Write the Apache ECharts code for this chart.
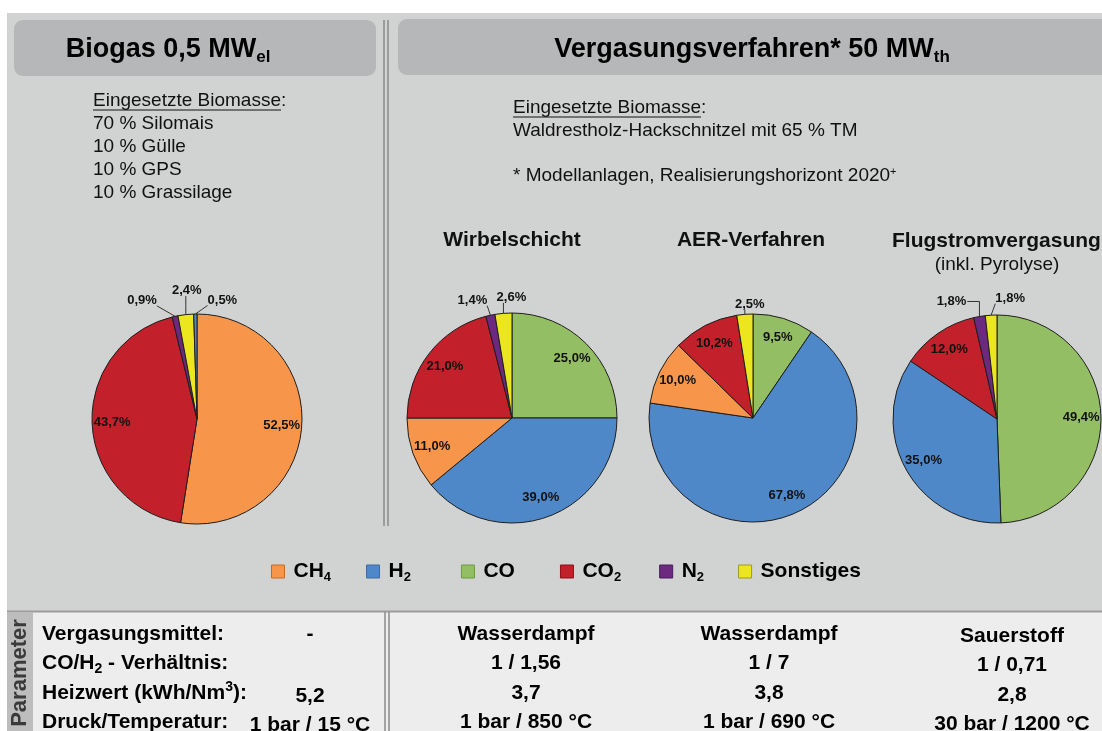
<!DOCTYPE html>
<html><head><meta charset="utf-8">
<script src="https://cdn.jsdelivr.net/npm/echarts@6/dist/echarts.min.js"></script>
<style>html,body{margin:0;padding:0;background:#fff}#c{width:1102px;height:731px}</style>
</head><body><div id="c"></div>
<script>
// ---------- data ----------
const categories = ['CH4', 'H2', 'CO', 'CO2', 'N2', 'Sonstiges'];
const catColors = ['#f7964a', '#4f88c8', '#94be63', '#c2202a', '#6b2a80', '#ece61f'];
const catBorders = ['#c66a20', '#3d6a9e', '#6c9a42', '#8e1018', '#4a1a5c', '#a09a20'];
// values in category order (CH4, H2, CO, CO2, N2, Sonstiges)
const biogasValues = [52.5, 0.5, 0, 43.7, 0.9, 2.4];
const wirbelValues = [11.0, 39.0, 25.0, 21.0, 1.4, 2.6];
const aerValues = [10.0, 67.8, 9.5, 10.2, 0, 2.5];
const flugValues = [0, 35.0, 49.4, 12.0, 1.8, 1.8];
// clockwise drawing order from 12 o'clock
const biogasOrder = ['CH4', 'CO2', 'N2', 'Sonstiges', 'H2'];
const gasOrder = ['CO', 'H2', 'CH4', 'CO2', 'N2', 'Sonstiges'];

const pieTitles = ['Wirbelschicht', 'AER-Verfahren', 'Flugstromvergasung'];
const biomasseLeft = ['70 % Silomais', '10 % Gülle', '10 % GPS', '10 % Grassilage'];
const biomasseRight = 'Waldrestholz-Hackschnitzel mit 65 % TM';

const paramLabels = ['Vergasungsmittel:', 'CO/H{sub|2} - Verhältnis:', 'Heizwert (kWh/Nm{sup|3}):', 'Druck/Temperatur:'];
const paramBiogas = ['-', '', '5,2', '1 bar / 15 °C'];
const paramWirbel = ['Wasserdampf', '1 / 1,56', '3,7', '1 bar / 850 °C'];
const paramAer = ['Wasserdampf', '1 / 7', '3,8', '1 bar / 690 °C'];
const paramFlug = ['Sauerstoff', '1 / 0,71', '2,8', '30 bar / 1200 °C'];

// ---------- helpers ----------
const FONT = '"Liberation Sans", Arial, Helvetica, sans-serif';
const fmt = v => v.toFixed(1).replace('.', ',') + '%';
const colorOf = n => catColors[categories.indexOf(n)];
function measure(text, font) {
  const c = document.createElement('canvas').getContext('2d');
  c.font = font; return c.measureText(text).width;
}
// label placement style for the small outside labels: offset of label centre from slice edge
function smallLabelLayout(shifts) {
  return function (p) {
    const pts = p.labelLinePoints;
    const s = shifts[p.dataIndex];
    if (!pts || !s) return {};
    const e = pts[0];
    const w = p.labelRect.width, h = p.labelRect.height;
    const cx = e[0] + s[0], cy = e[1] + s[1];
    let end, mid;
    if (s[2] === 'elbow') {
      end = [cx + w / 2 + 1, cy];
      mid = [e[0], cy];
    } else {
      const ex = Math.max(cx - w / 2, Math.min(e[0], cx + w / 2));
      const ey = Math.max(cy - h / 2 + 2, Math.min(e[1], cy + h / 2 - 1));
      end = [ex, ey]; mid = [(ex + e[0]) / 2, (ey + e[1]) / 2];
    }
    return { x: cx, y: cy, align: 'center', verticalAlign: 'middle', labelLinePoints: [e, mid, end] };
  };
}
const visibleSeries = [], labelSeries = [];
function addPie(vals, order, center, r, shiftsByName) {
  const data = order.map(n => ({ name: n, value: vals[categories.indexOf(n)] })).filter(d => d.value > 0);
  const shifts = data.map(d => shiftsByName[d.name]);
  visibleSeries.push({
    type: 'pie', center, radius: r, startAngle: 90, clockwise: true,
    avoidLabelOverlap: false, silent: true,
    itemStyle: { borderColor: '#1e1e1e', borderWidth: 1 },
    label: { show: true, position: 'outside', formatter: p => fmt(p.value),
      fontFamily: FONT, fontSize: 13, fontWeight: 'bold', color: '#111' },
    labelLine: { show: true, length: 8, length2: 6, lineStyle: { color: '#333', width: 1 } },
    labelLayout: smallLabelLayout(shifts),
    emphasis: { disabled: true },
    data: data.map(d => d.value < 5
      ? { ...d, itemStyle: { color: colorOf(d.name) } }
      : { ...d, itemStyle: { color: colorOf(d.name) }, label: { show: false }, labelLine: { show: false } })
  });
  labelSeries.push({
    type: 'pie', center, radius: [r * 0.56, r], startAngle: 90, clockwise: true, silent: true,
    itemStyle: { color: 'rgba(0,0,0,0)', borderWidth: 0 },
    label: { show: true, position: 'inside', formatter: p => fmt(p.value),
      fontFamily: FONT, fontSize: 13, fontWeight: 'bold', color: '#111' },
    labelLine: { show: false }, emphasis: { disabled: true },
    data: data.map(d => d.value >= 5 ? d : { ...d, label: { show: false } })
  });
}
addPie(biogasValues, biogasOrder, [197, 419], 105, { N2: [-33, -16], Sonstiges: [1, -24], H2: [27, -14] });
addPie(wirbelValues, gasOrder, [512, 418], 105, { N2: [-18, -15], Sonstiges: [8, -16] });
addPie(aerValues, gasOrder, [753, 418], 104, { Sonstiges: [5, -10] });
addPie(flugValues, gasOrder, [997, 419], 104, { N2: [-28, -15, 'elbow'], Sonstiges: [19, -17] });

// legend label: subscript digits and per-item spacing
const legendSpace = { CH4: 1, H2: 16, CO: 11, CO2: 4, N2: 0, Sonstiges: 0 };
const subFormat = n => {
  const m = n.match(/^([A-Za-z]+?)(\d)$/);
  const body = m ? '{m|' + m[1] + '}{s|' + m[2] + '}' : '{m|' + n + '}';
  return body + (legendSpace[n] ? '{g' + legendSpace[n] + '|}' : '');
};
const legendRich = {
  m: { fontFamily: FONT, fontSize: 21, fontWeight: 'bold', color: '#000', lineHeight: 24, padding: [0, 0, 0, 4] },
  s: { fontFamily: FONT, fontSize: 13, fontWeight: 'bold', color: '#000', lineHeight: 11, verticalAlign: 'bottom' }
};
Object.values(legendSpace).forEach(v => { if (v) legendRich['g' + v] = { width: v, lineHeight: 24 }; });

// ---------- graphic ----------
const g = [];
g.push({ type: 'rect', z: 0, shape: { x: 7, y: 13, width: 1095, height: 598 }, style: { fill: '#d1d3d2' } });
g.push({ type: 'rect', z: 0, shape: { x: 7, y: 611, width: 1095, height: 120 }, style: { fill: '#ededed' } });
g.push({ type: 'line', z: 1, shape: { x1: 7, y1: 611.5, x2: 1102, y2: 611.5 }, style: { stroke: '#9c9c9c', lineWidth: 2 } });
g.push({ type: 'rect', z: 1, shape: { x: 7, y: 612, width: 26, height: 119 }, style: { fill: '#bdbdbd' } });
g.push({ type: 'text', z: 10, x: 20, y: 673, rotation: Math.PI / 2,
  style: { text: 'Parameter', fontFamily: FONT, fontSize: 22, fontWeight: 'bold', fill: '#3a3a3a', align: 'center', verticalAlign: 'middle' } });
// header boxes
g.push({ type: 'rect', z: 1, shape: { x: 14, y: 20, width: 362, height: 56, r: 9 }, style: { fill: '#b6b7b8' } });
g.push({ type: 'rect', z: 1, shape: { x: 398, y: 19, width: 720, height: 56, r: 9 }, style: { fill: '#b6b7b8' } });
const headRich = {
  m: { fontFamily: FONT, fontSize: 27, fontWeight: 'bold', fill: '#000', lineHeight: 32 },
  s: { fontFamily: FONT, fontSize: 17, fontWeight: 'bold', fill: '#000', lineHeight: 14, verticalAlign: 'bottom' }
};
g.push({ type: 'text', z: 10, x: 168, y: 50, style: { text: '{m|Biogas 0,5 MW}{s|el}', rich: headRich, align: 'center', verticalAlign: 'middle' } });
g.push({ type: 'text', z: 10, x: 752, y: 50, style: { text: '{m|Vergasungsverfahren* 50 MW}{s|th}', rich: headRich, align: 'center', verticalAlign: 'middle' } });
// separators
[[384, 20, 526], [388, 20, 526], [385, 612, 731], [389, 612, 731]].forEach(([x, y1, y2]) =>
  g.push({ type: 'line', z: 2, shape: { x1: x, y1, x2: x, y2 }, style: { stroke: '#8a8a8a', lineWidth: 1.5 } }));
// biomass texts
const BODY = 19;
const bodyStyle = (t, x, y) => ({ type: 'text', z: 10, x, y,
  style: { text: t, fontFamily: FONT, fontSize: BODY, fill: '#111', align: 'left', verticalAlign: 'middle' } });
g.push(bodyStyle('Eingesetzte Biomasse:', 93, 101));
biomasseLeft.forEach((t, i) => g.push(bodyStyle(t, 93, 124 + i * 23)));
const ulW = measure('Eingesetzte Biomasse', BODY + 'px ' + FONT);
g.push({ type: 'line', z: 10, shape: { x1: 93, y1: 110, x2: 93 + ulW, y2: 110 }, style: { stroke: '#111', lineWidth: 1 } });
g.push(bodyStyle('Eingesetzte Biomasse:', 513, 108));
g.push({ type: 'line', z: 10, shape: { x1: 513, y1: 117, x2: 513 + ulW, y2: 117 }, style: { stroke: '#111', lineWidth: 1 } });
g.push(bodyStyle(biomasseRight, 513, 131));
g.push({ type: 'text', z: 10, x: 513, y: 176, style: { text: '* Modellanlagen, Realisierungshorizont 2020{sup|+}',
  fontFamily: FONT, fontSize: BODY, fill: '#111', align: 'left', verticalAlign: 'middle',
  rich: { sup: { fontFamily: FONT, fontSize: 11, fill: '#111', lineHeight: 10, verticalAlign: 'top' } } } });
// pie titles
const titleStyle = { fontFamily: FONT, fontSize: 21, fontWeight: 'bold', fill: '#111', verticalAlign: 'middle' };
g.push({ type: 'text', z: 10, x: 512, y: 240, style: { ...titleStyle, text: pieTitles[0], align: 'center' } });
g.push({ type: 'text', z: 10, x: 751, y: 240, style: { ...titleStyle, text: pieTitles[1], align: 'center' } });
g.push({ type: 'text', z: 10, x: 892, y: 241, style: { ...titleStyle, text: pieTitles[2], align: 'left' } });
g.push({ type: 'text', z: 10, x: 997, y: 265, style: { text: '(inkl. Pyrolyse)', fontFamily: FONT, fontSize: BODY, fill: '#111', align: 'center', verticalAlign: 'middle' } });
// table
const TB = 21;
const tblRich = {
  sub: { fontFamily: FONT, fontSize: 14, fontWeight: 'bold', fill: '#000', lineHeight: 12, verticalAlign: 'bottom' },
  sup: { fontFamily: FONT, fontSize: 14, fontWeight: 'bold', fill: '#000', lineHeight: 12, verticalAlign: 'top' }
};
const tText = (t, x, y, align) => ({ type: 'text', z: 10, x, y,
  style: { text: t, fontFamily: FONT, fontSize: TB, fontWeight: 'bold', fill: '#000', align, verticalAlign: 'middle', lineHeight: 26, rich: tblRich } });
const rowY = [634, 663, 693, 722];
paramLabels.forEach((t, i) => g.push(tText(t, 42, rowY[i], 'left')));
paramBiogas.forEach((t, i) => t && g.push(tText(t, 310, rowY[i] + (i >= 2 ? 3 : 0), 'center')));
paramWirbel.forEach((t, i) => g.push(tText(t, 526, rowY[i], 'center')));
paramAer.forEach((t, i) => g.push(tText(t, 769, rowY[i], 'center')));
paramFlug.forEach((t, i) => g.push(tText(t, 1012, rowY[i] + 2, 'center')));

const chart = echarts.init(document.getElementById('c'), null, { renderer: 'canvas' });
chart.setOption({
  animation: false,
  backgroundColor: '#ffffff',
  graphic: { elements: g },
  legend: {
    data: categories.map((n, i) => ({ name: n, itemStyle: { color: catColors[i], borderColor: catBorders[i], borderWidth: 1 } })),
    left: 271, top: 561, padding: 0, itemWidth: 13, itemHeight: 13, itemGap: 34, icon: 'rect', selectedMode: false,
    formatter: subFormat,
    textStyle: { rich: legendRich }
  },
  series: visibleSeries.concat(labelSeries)
});
</script></body></html>
